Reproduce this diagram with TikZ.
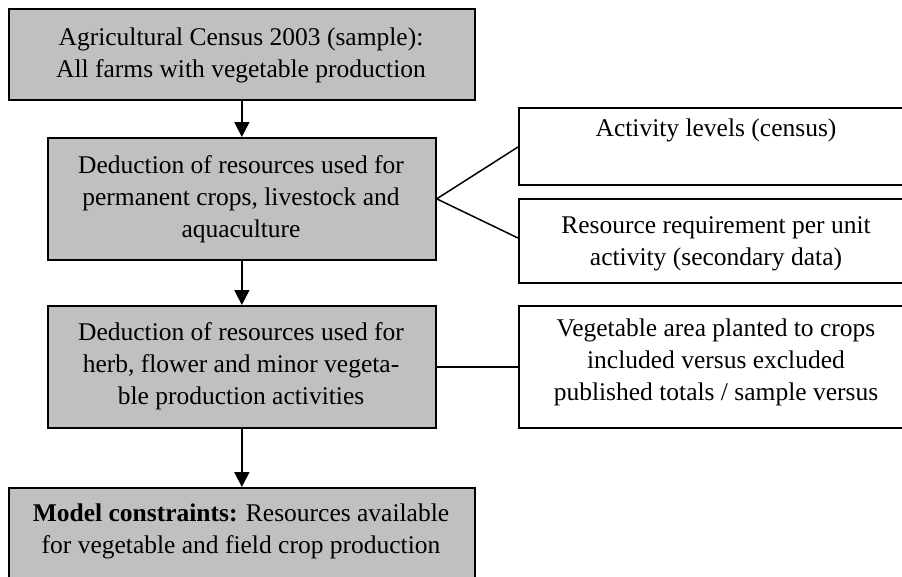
\documentclass[tikz,border=0pt]{standalone}
\usepackage{fontspec}
\setmainfont{Liberation Serif}
\usetikzlibrary{arrows.meta}
\definecolor{boxgray}{HTML}{C0C0C0}
\tikzset{
  x=1pt, y=-1pt,
  bx/.style={draw=black, line width=1.7pt},
  graybox/.style={bx, fill=boxgray},
  whitebox/.style={bx, fill=white},
  txt/.style={align=center, inner sep=0pt, font=\fontsize{25.5}{32}\selectfont},
  arr/.style={line width=1.7pt, -{Triangle[length=15pt,width=15pt]}},
  conn/.style={line width=1.5pt}
}
\begin{document}
\begin{tikzpicture}
\clip (0,0) rectangle (902,576);
\fill[white] (0,0) rectangle (902,576);
% left column boxes
\node[graybox, minimum width=466pt, minimum height=91pt, anchor=north west] (b1) at (8,8) {};
\node[txt] (t1) at (241,55) {Agricultural Census 2003 (sample):\\All farms with vegetable production};
\node[graybox, minimum width=388pt, minimum height=122pt, anchor=north west] (b2) at (47,137) {};
\node[txt] (t2) at (241,199) {Deduction of resources used for\\permanent crops, livestock and\\aquaculture};
\node[graybox, minimum width=388pt, minimum height=122pt, anchor=north west] (b3) at (47,305) {};
\node[txt] (t3) at (241,366) {Deduction of resources used for\\herb, flower and minor vegeta-\\ble production activities};
\node[graybox, minimum width=466pt, minimum height=110pt, anchor=north west] (b4) at (8,487) {};
\node[txt] (t4) at (241,531) {\textbf{Model constraints:} Resources available\\for vegetable and field crop production};
% right column boxes
\node[whitebox, minimum width=396pt, minimum height=77pt, anchor=north west] (r1) at (518,107) {};
\node[txt] (u1) at (716,130) {Activity levels (census)};
\node[whitebox, minimum width=396pt, minimum height=84pt, anchor=north west] (r2) at (518,198) {};
\node[txt] (u2) at (716,244) {Resource requirement per unit\\activity (secondary data)};
\node[whitebox, minimum width=396pt, minimum height=122pt, anchor=north west] (r3) at (518,305) {};
\node[txt] (u3) at (716,362) {Vegetable area planted to crops\\included versus excluded\\published totals / sample versus};
% arrows
\draw[arr] (b1.south) -- (b2.north);
\draw[arr] (b2.south) -- (b3.north);
\draw[arr] (b3.south) -- (b4.north);
% connectors
\coordinate (j) at (b2.east);
\draw[conn] (r1.west |- 0,147) -- (j) -- (r2.west |- 0,238);
\draw[conn] (b3.east) -- (r3.west);
\end{tikzpicture}
\end{document}
